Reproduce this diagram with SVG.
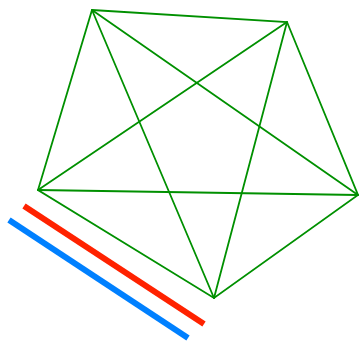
<svg xmlns="http://www.w3.org/2000/svg" width="360" height="344" viewBox="0 0 360 344">
<style>
.g{stroke:#009000;stroke-width:1.8;fill:none;stroke-linecap:round}
</style>
<rect width="360" height="344" fill="#fff"/>
<g id="connectors">
<polygon class="g" points="92,10 287,22 358,195 214,298 38,190"/>
<line class="g" x1="92" y1="10" x2="358" y2="195"/>
<line class="g" x1="92" y1="10" x2="214" y2="298"/>
<line class="g" x1="287" y1="22" x2="214" y2="298"/>
<line class="g" x1="287" y1="22" x2="38" y2="190"/>
<line class="g" x1="358" y1="195" x2="38" y2="190"/>
</g>
<line x1="24" y1="206" x2="204" y2="324" stroke="#ff2200" stroke-width="6"/>
<line x1="9" y1="220" x2="188" y2="338" stroke="#0080ff" stroke-width="6"/>
</svg>
